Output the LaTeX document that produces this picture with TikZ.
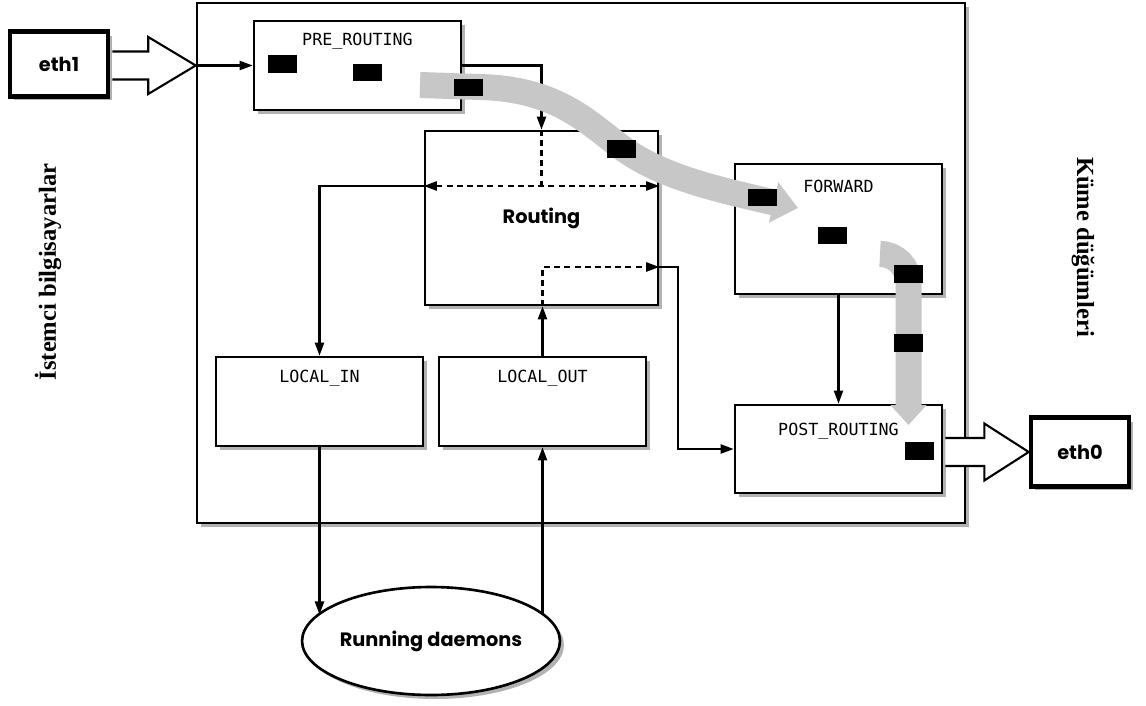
\documentclass[tikz,border=0pt]{standalone}
\usepackage{fontspec}
\usepackage{tikz}
\usetikzlibrary{arrows.meta,shadows,shapes.geometric,calc}
\newfontfamily\hookfont{DejaVu Sans Mono}
\newfontfamily\gothfont{Poppins}
\newfontfamily\sidefont{Liberation Serif}

\begin{document}
\begin{tikzpicture}[x=0.02cm,y=-0.02cm,
    >={Triangle[length=7.5pt,width=5.2pt]},
    dropped/.style={drop shadow={shadow xshift=0.08cm,shadow yshift=-0.08cm,
        fill=black,opacity=0.3}},
    kernel/.style={draw,line width=1.5pt,fill=white,dropped,
        minimum width=15.36cm,minimum height=10.4cm},
    hookbox/.style={draw,line width=1.5pt,fill=white,dropped,
        minimum width=4.14cm,minimum height=1.78cm},
    hooktext/.style={anchor=center,yshift=-0.46cm,font=\hookfont\fontsize{9.5}{11}\selectfont},
    gothic/.style={font=\gothfont\bfseries\fontsize{11}{13}\selectfont},
    iface/.style={draw,line width=2.6pt,fill=white,dropped,gothic,
        minimum width=1.96cm,minimum height=1.3cm},
    packet/.style={fill=black,inner sep=0pt,minimum width=0.58cm,minimum height=0.36cm},
    flow/.style={->,draw,line width=1.2pt},
    probe/.style={draw,line width=1.2pt,dash pattern=on 3.4pt off 2.4pt},
    band/.style={draw=black!22,line width=0.52cm},
    wide/.style={draw,line width=1.2pt,fill=white,line join=miter},
    sidelabel/.style={font=\sidefont\bfseries\fontsize{14}{16}\selectfont}
]
    \useasboundingbox (0,0) rectangle (1146,706);
    \node[kernel] (netfilter) at (581,263) {};

    % interfaces and side captions
    \node[iface] (eth1) at (59,64) {eth1};
    \node[iface,minimum height=1.38cm] (eth0) at (1080,452) {eth0};
    \node[sidelabel,rotate=90] (clients) at (48,272) {İstemci bilgisayarlar};
    \node[sidelabel,rotate=-90] (cluster) at (1083,247) {Küme düğümleri};

    % hooks
    \node[hookbox,label={[hooktext,yshift=0.02cm]north:PRE\_ROUTING}] (pre) at (357.5,65.5) {};
    \node[hookbox,gothic,minimum width=4.66cm,minimum height=3.48cm] (routing) at (541.5,218) {Routing};
    \node[hookbox,minimum height=2.6cm,label={[hooktext,yshift=-0.02cm]north:FORWARD}] (forward) at (838.5,229) {};
    \node[hookbox,label={[hooktext]north:LOCAL\_IN}] (localin) at (319.5,401.5) {};
    \node[hookbox,label={[hooktext]north:LOCAL\_OUT}] (localout) at (542.5,401.5) {};
    \node[hookbox,minimum height=1.76cm,label={[hooktext,yshift=-0.1cm]north:POST\_ROUTING}] (post) at (838.5,449) {};
    \node[draw,ellipse,line width=1.5pt,fill=white,dropped,gothic,inner sep=0pt,
        minimum width=5.04cm,minimum height=2.16cm] (daemons) at (431,641) {Running daemons};

    % wide in/out arrows
    \coordinate (inport) at (netfilter.west |- pre.west);
    \draw[wide] ($(eth1.east |- inport)+(2,-14)$) -- ++(36,0) -- ++(0,-14.5) -- (inport)
        -- ($(eth1.east |- inport)+(38,28.5)$) -- ++(0,-14.5) -- ++(-36,0);
    \coordinate (outport) at (eth0.west);
    \draw[wide] ($(post.east |- outport)+(2,-14)$) -- ++(39,0) -- ++(0,-14.5) -- (outport)
        -- ($(post.east |- outport)+(41,28.5)$) -- ++(0,-14.5) -- ++(-39,0);

    % connectors
    \coordinate (split) at ($(routing.center)+(0,-32)$);
    \coordinate (merge) at ($(routing.center)+(0,49)$);
    \draw[flow] (inport) -- (pre.west);
    \draw[flow] (pre.east) -| (routing.north);
    \draw[probe] (routing.north) -- (split);
    \draw[probe,<->] (split -| routing.west) -- (split -| routing.east);
    \draw[flow] (split -| routing.west) -| (localin.north);
    \draw[flow] (localout.north) -- (localout.north |- routing.south);
    \draw[probe,->] (localout.north |- routing.south) |- (merge -| routing.east);
    \draw[flow] (merge -| routing.east) -- ++(19,0) |- (post.west);
    \draw[flow] (forward) -- (post);
    \draw[flow] (localin.south) -- (localin.south |- daemons.167);
    \draw[flow] (localout.south |- daemons.13) -- (localout.south);

    % packet path
    \draw[band,-{Triangle[length=0.5cm,width=0.8cm]}] (420,85) -- (480,87)
        .. controls (560,89) and (590,125) .. (625,150)
        .. controls (665,178) and (720,190) .. (798,208);
    \draw[band,-{Triangle[length=0.4cm,width=0.7cm]}] (880,254)
        .. controls (896,254) and (908.5,267) .. (908.5,283) -- (908.5,425);
    \node[packet] (pk1) at (282,64) {};
    \node[packet] (pk2) at (367.5,72.5) {};
    \node[packet] (pk3) at (468,87.5) {};
    \node[packet] (pk4) at (621.5,149) {};
    \node[packet] (pk5) at (762,197.5) {};
    \node[packet] (pk6) at (832.5,235.5) {};
    \node[packet] (pk7) at (908.5,274) {};
    \node[packet] (pk8) at (908,343) {};
    \node[packet] (pk9) at (919.5,451) {};
\end{tikzpicture}
\end{document}
